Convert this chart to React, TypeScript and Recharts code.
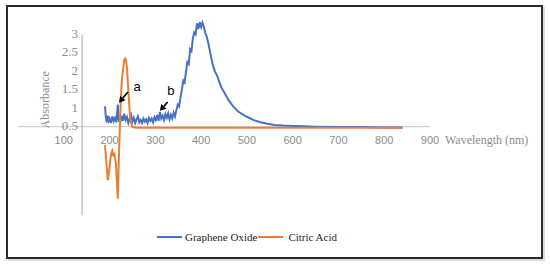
import React from 'react';
import { LineChart, Line, XAxis, YAxis, ReferenceLine, ReferenceDot } from 'recharts';

// Graphene oxide UV-Vis spectrum
const goWavelength = [
  190, 192, 194, 196, 198, 200, 203, 206, 209, 212, 215, 218, 220, 223, 226, 229, 232, 235, 238, 241,
  244, 247, 250, 253, 256, 259, 262, 265, 268, 271, 274, 277, 280, 283, 286, 289, 292, 295, 298, 301,
  304, 307, 310, 313, 316, 319, 322, 325, 328, 331, 334, 337, 340, 343, 346, 349, 352, 355, 358, 361,
  364, 367, 370, 373, 376, 379, 382, 385, 388, 391, 394, 397, 400, 403, 406, 409, 412, 416, 420, 425,
  430, 435, 440, 445, 450, 460, 470, 480, 490, 500, 515, 530, 545, 560, 580, 600, 625, 650, 700, 750,
  800, 840,
];
const goAbsorbance = [
  1.05, 0.75, 0.62, 0.8, 0.66, 0.72, 0.6, 0.78, 0.65, 0.74, 0.62, 1.1, 0.7, 0.58, 0.8, 0.66, 0.85, 0.68, 0.76, 0.6,
  0.72, 0.82, 0.64, 0.74, 0.6, 0.7, 0.78, 0.62, 0.68, 0.6, 0.72, 0.64, 0.7, 0.6, 0.74, 0.66, 0.72, 0.62, 0.76, 0.68,
  0.82, 0.66, 0.9, 0.72, 0.8, 0.68, 0.84, 0.74, 0.86, 0.7, 0.82, 0.72, 0.88, 0.78, 0.95, 1.1, 1.05, 1.3, 1.5, 1.75,
  1.7, 2.0, 2.25, 2.2, 2.6, 2.55, 2.9, 3.05, 3.0, 3.3, 3.15, 3.33, 3.2, 3.32, 3.2, 3.05, 2.95, 2.75, 2.5, 2.2,
  2.0, 1.88, 1.7, 1.55, 1.44, 1.22, 1.05, 0.92, 0.84, 0.77, 0.68, 0.62, 0.58, 0.55, 0.53, 0.52, 0.51, 0.5, 0.49, 0.49,
  0.48, 0.48,
];

// Citric acid spectrum
const caWavelength = [
  190, 192, 194, 196, 198, 200, 202, 204, 206, 208, 210, 212, 214, 216, 218, 220, 222, 224, 226, 228,
  230, 232, 234, 236, 238, 240, 242, 244, 246, 248, 250, 260, 300, 400, 500, 600, 700, 800, 840,
];
const caAbsorbance = [
  0.0, -0.3, -0.6, -0.95, -0.8, -0.6, -0.35, -0.2, -0.15, -0.3, -0.2, -0.35, -0.5, -1.0, -1.45, -0.5, 0.3, 1.0, 1.6, 1.9,
  2.1, 2.3, 2.35, 2.3, 2.1, 1.7, 1.3, 0.9, 0.65, 0.55, 0.49, 0.47, 0.47, 0.47, 0.47, 0.47, 0.47, 0.47, 0.47,
];

const xTicks = [100, 200, 300, 400, 500, 600, 700, 800, 900];
const yTicks = [0.5, 1, 1.5, 2, 2.5, 3];
const seriesNames = ['Graphene Oxide', 'Citric Acid'];
const seriesColors = ['#4472C4', '#ED7D31'];

// peak annotations: letter, arrow tail, arrow tip, letter position
const annotLetters = ['a', 'b'];
const annotTails = [[240, 1.44], [327, 1.17]];
const annotTips = [[220.5, 1.15], [310, 0.93]];
const annotText = [[260, 1.6], [334, 1.48]];

const goData = goWavelength.map((wl, i) => ({ wl, abs: goAbsorbance[i] }));
const caData = caWavelength.map((wl, i) => ({ wl, abs: caAbsorbance[i] }));

const Arrow = (props: any) => {
  const { x1, y1, x2, y2 } = props;
  const ang = Math.atan2(y2 - y1, x2 - x1);
  const len = 6;
  const w = 3.5;
  const bx = x2 - len * Math.cos(ang);
  const by = y2 - len * Math.sin(ang);
  const px = -Math.sin(ang) * w;
  const py = Math.cos(ang) * w;
  return (
    <g>
      <line x1={x1} y1={y1} x2={bx} y2={by} stroke="#000" strokeWidth={1.6} />
      <polygon points={`${x2},${y2} ${bx + px},${by + py} ${bx - px},${by - py}`} fill="#000" />
    </g>
  );
};

export default function App() {
  return (
    <div style={{ position: 'absolute', left: 0, top: 0, width: 550, height: 266, background: '#fff' }}>
      <div
        style={{
          position: 'absolute', left: 6, top: 5, width: 537, height: 254,
          border: '2px solid #2b2b2b', boxSizing: 'border-box', boxShadow: '2px 2px 0 #dcdcdc',
        }}
      />
      <div style={{ position: 'absolute', left: 0, top: 0 }}>
        <LineChart width={550} height={266} margin={{ top: 16, right: 120, left: 18, bottom: 47 }}>
          <XAxis dataKey="wl" type="number" domain={[0, 900]} hide allowDataOverflow />
          <YAxis type="number" domain={[-2, 3.5]} hide allowDataOverflow />
          <ReferenceLine y={0.5} stroke="#c4c4c4" strokeWidth={1} />
          <ReferenceLine segment={[{ x: 140, y: -1.9 }, { x: 140, y: 3 }]} stroke="#a6a6a6" strokeWidth={1} />
          {yTicks.map((v) => (
            <ReferenceDot
              key={'y' + v}
              x={140}
              y={v}
              r={0}
              shape={(p: any) => (
                <text x={p.cx - 4} y={p.cy - 1} textAnchor="end" dominantBaseline="central"
                  fontFamily="'Liberation Serif', serif" fontSize={13} fill="#8c8c8c">{v}</text>
              )}
            />
          ))}
          {xTicks.map((v) => (
            <ReferenceDot
              key={'x' + v}
              x={v}
              y={0.5}
              r={0}
              shape={(p: any) => (
                <text x={p.cx} y={p.cy + 13} textAnchor="middle" dominantBaseline="central"
                  fontFamily="'Liberation Sans', sans-serif" fontSize={11} fill="#8c8c8c">{v}</text>
              )}
            />
          ))}
          <ReferenceDot
            x={900}
            y={0.5}
            r={0}
            shape={(p: any) => (
              <text x={p.cx + 15} y={p.cy + 13} dominantBaseline="central"
                fontFamily="'Liberation Serif', serif" fontSize={12} fill="#8c8c8c">Wavelength  (nm)</text>
            )}
          />
          <ReferenceDot
            x={59}
            y={1.23}
            r={0}
            shape={(p: any) => (
              <text x={p.cx} y={p.cy} textAnchor="middle" dominantBaseline="central"
                transform={`rotate(-90 ${p.cx} ${p.cy})`}
                fontFamily="'Liberation Serif', serif" fontSize={12} fill="#8c8c8c">Absorbance</text>
            )}
          />
          <Line data={goData} dataKey="abs" name={seriesNames[0]} stroke={seriesColors[0]} strokeWidth={2}
            dot={false} isAnimationActive={false} />
          <Line data={caData} dataKey="abs" name={seriesNames[1]} stroke={seriesColors[1]} strokeWidth={2}
            dot={false} isAnimationActive={false} />
          {annotLetters.map((l, i) => (
            <ReferenceLine
              key={'arr' + l}
              segment={[
                { x: annotTails[i][0], y: annotTails[i][1] },
                { x: annotTips[i][0], y: annotTips[i][1] },
              ]}
              shape={Arrow}
            />
          ))}
          {annotLetters.map((l, i) => (
            <ReferenceDot
              key={'lbl' + l}
              x={annotText[i][0]}
              y={annotText[i][1]}
              r={0}
              shape={(p: any) => (
                <text x={p.cx} y={p.cy} textAnchor="middle" dominantBaseline="central"
                  fontFamily="'Liberation Sans', sans-serif" fontSize={13} fill="#000">{l}</text>
              )}
            />
          ))}
        </LineChart>
      </div>
      <div
        style={{
          position: 'absolute', left: 157, top: 230, height: 14, display: 'flex', alignItems: 'center',
          fontFamily: "'Liberation Serif', serif", fontSize: 11, color: '#262626',
        }}
      >
        <span style={{ display: 'inline-block', width: 25, height: 2, background: seriesColors[0] }} />
        <span style={{ marginLeft: 3 }}>{seriesNames[0]}</span>
        <span style={{ display: 'inline-block', width: 25, height: 2, background: seriesColors[1], marginLeft: 1 }} />
        <span style={{ marginLeft: 5 }}>{seriesNames[1]}</span>
      </div>
    </div>
  );
}
